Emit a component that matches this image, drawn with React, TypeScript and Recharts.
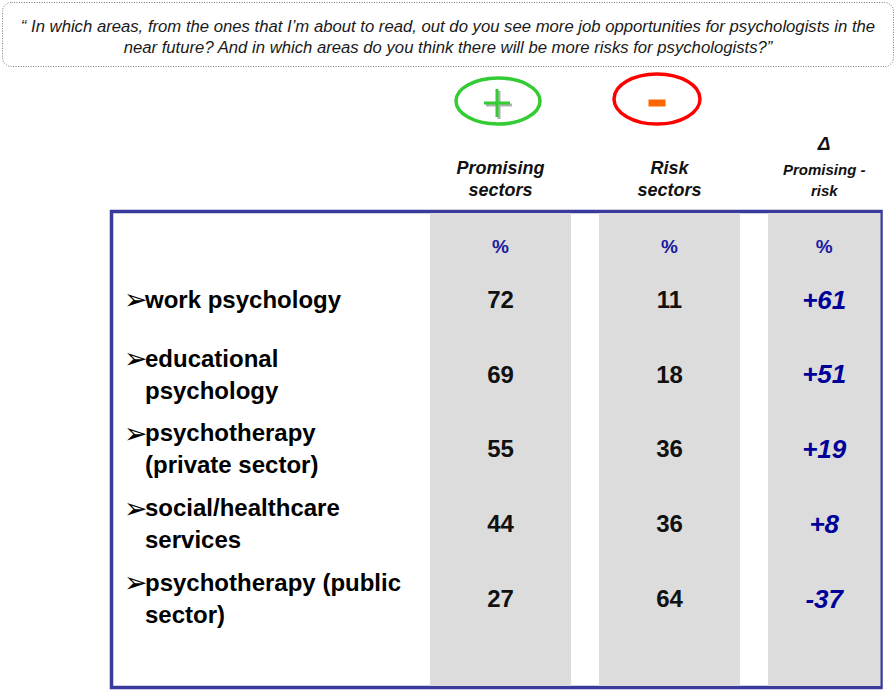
import React from 'react';
import { ScatterChart, Scatter, XAxis, YAxis, ReferenceArea, Customized } from 'recharts';

const question = [
  '“ In which areas, from the ones that I’m about to read, out do you see more job opportunities for psychologists in the',
  'near future? And in which areas do you think there will be more risks for psychologists?”',
];
const columns = ['Promising\nsectors', 'Risk\nsectors', 'Promising -\nrisk'];
const sectors = [
  'work psychology',
  'educational\npsychology',
  'psychotherapy\n(private sector)',
  'social/healthcare\nservices',
  'psychotherapy (public\nsector)',
];
const promising = [72, 69, 55, 44, 27];
const risk = [11, 18, 36, 36, 64];
const delta = [61, 51, 19, 8, -37];

const cells = sectors.flatMap((sector, i) => [
  { sector, col: columns[0], label: String(promising[i]), isDelta: false },
  { sector, col: columns[1], label: String(risk[i]), isDelta: false },
  { sector, col: columns[2], label: (delta[i] > 0 ? '+' : '') + delta[i], isDelta: true },
]);

const W = 896;
const H = 690;
const FRAME_RIGHT = 880.5; // inner edge of the blue frame
const GAP = 14; // white space each side of a grey column
const BAR_HALF = 70.5;
const LABEL_X = 125;
const FONT = '"Liberation Sans", Arial, sans-serif';
const BLUE = '#000099';

// last grey column is cut off by the frame -> centre its text on the visible part
const visibleCenter = (x: number) => Math.min(x, (x - BAR_HALF + FRAME_RIGHT) / 2);

const GreyColumn = (props: any) => {
  const { x, y, width, height } = props;
  const left = x + GAP;
  const right = Math.min(x + width - GAP, FRAME_RIGHT);
  return <rect x={left} y={y} width={right - left} height={height} fill="#dcdcdc" />;
};

const ColumnHead = (props: any) => {
  const { x, y, payload, index } = props;
  const cx = visibleCenter(x);
  const lines = String(payload.value).split('\n');
  const last = index === columns.length - 1;
  return (
    <g fontFamily={FONT}>
      {index === 0 && (
        <g>
          <ellipse cx={cx - 2.5} cy={y - 112} rx={42} ry={23} fill="none" stroke="#33cc33" strokeWidth={3.5} />
          <path d={`M${cx - 3.5} ${y - 124}v28M${cx - 16.5} ${y - 110}h26`} stroke="#b0b0b0" strokeWidth={3} transform="translate(2,2)" />
          <path d={`M${cx - 3.5} ${y - 124}v28M${cx - 16.5} ${y - 110}h26`} stroke="#33cc33" strokeWidth={3} />
        </g>
      )}
      {index === 1 && (
        <g>
          <ellipse cx={cx - 12.5} cy={y - 114} rx={43} ry={25} fill="none" stroke="#ff0000" strokeWidth={3.5} />
          <rect x={cx - 21} y={y - 113.5} width={17} height={7} fill="#ff6600" />
        </g>
      )}
      {last && (
        <text x={cx} y={y - 70} dy="0.35em" textAnchor="middle" fontSize={19} fontStyle="italic" fontWeight="bold" fill="#111">
          Δ
        </text>
      )}
      {lines.map((line, i) => (
        <text
          key={i}
          x={cx}
          y={y + (last ? -43 + i * 21 : -45 + i * 22)}
          dy="0.35em"
          textAnchor="middle"
          fontSize={last ? 15 : 18}
          fontStyle="italic"
          fontWeight="bold"
          fill="#111"
        >
          {line}
        </text>
      ))}
      <text x={cx} y={y + 33} dy="0.35em" textAnchor="middle" fontSize={19} fontWeight="bold" fill="#1a1aa0">
        %
      </text>
    </g>
  );
};

const SectorLabel = (props: any) => {
  const { y, payload } = props;
  const lines = String(payload.value).split('\n');
  const top = y - (lines.length - 1) * 16;
  return (
    <g>
      <text x={LABEL_X - 1} y={top} dy="0.35em" fontFamily="DejaVu Sans" fontSize={28} fill="#000">
        ➢
      </text>
      {lines.map((line, i) => (
        <text key={i} x={LABEL_X + 20} y={top + i * 32} dy="0.35em" fontFamily={FONT} fontSize={24} fontWeight="bold" fill="#000">
          {line}
        </text>
      ))}
    </g>
  );
};

const CellText = (props: any) => {
  const { cx, cy, payload } = props;
  return (
    <text
      x={visibleCenter(cx)}
      y={cy}
      dy="0.35em"
      textAnchor="middle"
      fontFamily={FONT}
      fontSize={payload.isDelta ? 26 : 24}
      fontWeight="bold"
      fontStyle={payload.isDelta ? 'italic' : 'normal'}
      fill={payload.isDelta ? BLUE : '#111'}
    >
      {payload.label}
    </text>
  );
};

const Decorations = () => (
  <g>
    <rect x={2.5} y={2.5} width={891} height={64} rx={9} fill="none" stroke="#777" strokeDasharray="1 1.5" />
    {question.map((line, i) => (
      <text key={i} x={W / 2} y={26 + i * 21} dy="0.35em" textAnchor="middle" fontFamily={FONT} fontSize={16.7} fontStyle="italic" fill="#1a1a1a">
        {line}
      </text>
    ))}
    <rect x={111.5} y={211.5} width={769.5} height={476} fill="none" stroke="#3a3a9c" strokeWidth={3.5} />
  </g>
);

export default function App() {
  return (
    <div style={{ position: 'absolute', left: 0, top: 0, background: '#fff' }}>
      <ScatterChart width={W} height={H} margin={{ top: 73, right: -27, bottom: 4, left: 110 }}>
        <XAxis
          xAxisId={0}
          dataKey="col"
          type="category"
          orientation="top"
          height={140}
          allowDuplicatedCategory={false}
          axisLine={false}
          tickLine={false}
          tickSize={0}
          tickMargin={0}
          interval={0}
          tick={<ColumnHead />}
        />
        <YAxis
          yAxisId="rows"
          dataKey="sector"
          type="category"
          width={306}
          reversed
          padding={{ top: 49, bottom: 50 }}
          allowDuplicatedCategory={false}
          axisLine={false}
          tickLine={false}
          tickSize={0}
          tickMargin={0}
          interval={0}
          tick={<SectorLabel />}
        />
        <YAxis yAxisId="full" type="number" domain={[0, 1]} allowDataOverflow hide />
        {columns.map((c) => (
          <ReferenceArea key={c} xAxisId={0} yAxisId="full" x1={c} x2={c} y1={0} y2={1} ifOverflow="visible" shape={<GreyColumn />} />
        ))}
        <Customized component={<Decorations />} />
        <Scatter data={cells} xAxisId={0} yAxisId="rows" shape={<CellText />} isAnimationActive={false} />
      </ScatterChart>
    </div>
  );
}
